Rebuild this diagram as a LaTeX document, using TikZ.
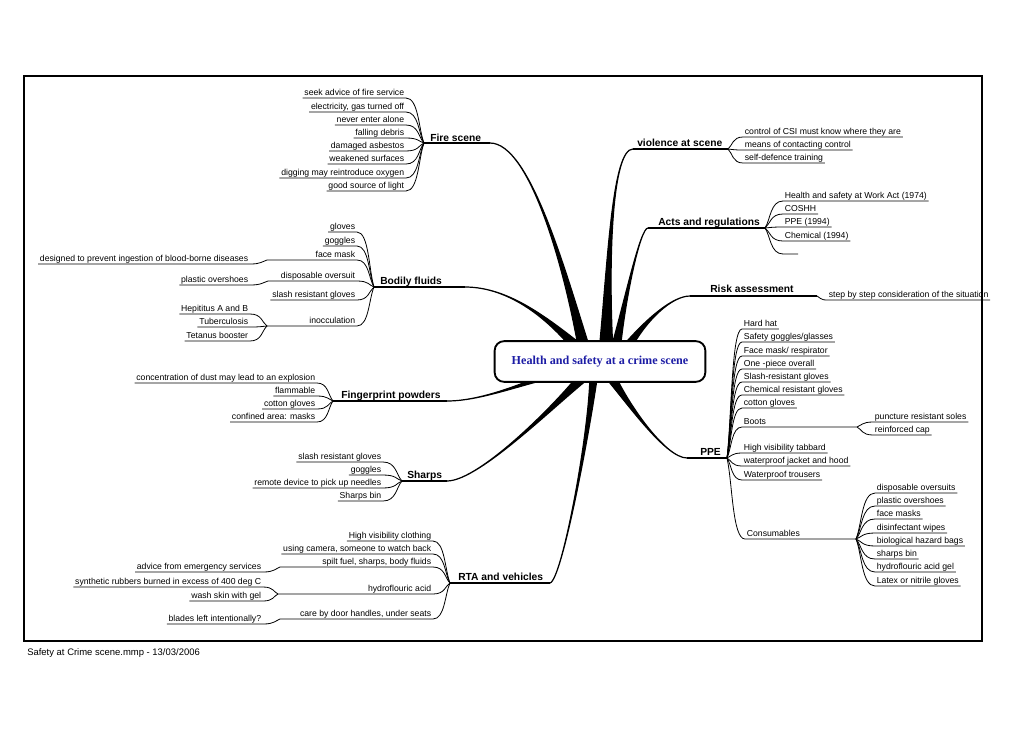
\documentclass[tikz,border=0pt]{standalone}
\usepackage{fontspec}
\setmainfont{Liberation Sans}
\newfontfamily\titlefont{Liberation Serif}
\usetikzlibrary{calc}
\definecolor{titleblue}{RGB}{28,28,165}
\newcommand{\branchcurve}[5]{\filldraw[line width=0.9pt] ($(#1)+(#5)$) .. controls (#2) and (#3) .. (#4) .. controls (#3) and (#2) .. ($(#1)-(#5)$) -- cycle;}

\begin{document}
\begin{tikzpicture}[x=0.75pt,y=-0.75pt,
  leaf/.style={font=\fontsize{6.5}{7}\selectfont,inner xsep=1.2pt,inner ysep=0pt,text height=4.8pt,text depth=1.7pt},
  lleaf/.style={leaf,anchor=south east},
  rleaf/.style={leaf,anchor=south west},
  topic/.style={font=\fontsize{7.7}{9}\selectfont\bfseries,anchor=base west,inner sep=0pt},
  uline/.style={line width=0.6pt},
  mainline/.style={line width=1.3pt},
  fanin/.style={to path={.. controls ($(\tikztostart)!0.7!(\tikztotarget |- \tikztostart)$) and ($(\tikztotarget)!0.3!(\tikztostart)$) .. (\tikztotarget)}},
  fanout/.style={to path={.. controls ($(\tikztostart)!0.3!(\tikztotarget)$) and ($(\tikztotarget)!0.7!(\tikztostart |- \tikztotarget)$) .. (\tikztotarget)}}]
\useasboundingbox (0,0) rectangle (1030,728);
\draw[line width=0.9pt] (24,76) rectangle (982,641);
\node[font=\fontsize{7.1}{8}\selectfont,anchor=base west,inner sep=0pt] (footer) at (27,655) {Safety at Crime scene.mmp - 13/03/2006};

\coordinate (fshub) at (424,143);   \coordinate (fsend) at (490,143);  \coordinate (fsbase) at (585,352);
\coordinate (vhub) at (728,149);    \coordinate (vend) at (633,149);   \coordinate (vbase) at (606,352);
\coordinate (ahub) at (765,228);    \coordinate (aend) at (648,228);   \coordinate (abase) at (615,352);
\coordinate (rhub) at (817,296);    \coordinate (rend) at (690,296);   \coordinate (rbase) at (624,352);
\coordinate (phub) at (727,458);    \coordinate (pend) at (687,458);   \coordinate (pbase) at (608,372);
\coordinate (bfhub) at (374,287);   \coordinate (bfend) at (465,287);  \coordinate (bfbase) at (582,352);
\coordinate (fphub) at (333,401);   \coordinate (fpend) at (447,401);  \coordinate (fpbase) at (560,372);
\coordinate (shhub) at (402,481);   \coordinate (shend) at (447,481);  \coordinate (shbase) at (588,372);
\coordinate (rtahub) at (450,583);  \coordinate (rtaend) at (550,583); \coordinate (rtabase) at (594,372);

\branchcurve{fsbase}{565,270}{530,143}{fsend}{6,0}
\branchcurve{vbase}{608,260}{612,149}{vend}{7,0}
\branchcurve{abase}{625,300}{640,228}{aend}{5,0}
\branchcurve{rbase}{645,320}{672,296}{rend}{3,4}
\branchcurve{bfbase}{550,320}{510,287}{bfend}{4,-4}
\branchcurve{fpbase}{520,385}{480,401}{fpend}{0,4}
\branchcurve{shbase}{560,400}{480,481}{shend}{4,4}
\branchcurve{rtabase}{590,430}{562,580}{rtaend}{4,0}
\branchcurve{pbase}{625,400}{665,458}{pend}{4,-4}

\node[draw,fill=white,rounded corners=7pt,line width=1.4pt,minimum width=158pt,minimum height=30.5pt,font=\titlefont\fontsize{9.1}{11}\selectfont\bfseries,text=titleblue] (centre) at (600,361.5) {Health and safety at a crime scene};

\draw[mainline] (fshub) -- (fsend);
\draw[mainline] (vend) -- (vhub);
\draw[mainline] (aend) -- (ahub);
\draw[mainline] (rend) -- (rhub);
\draw[mainline] (pend) -- (phub);
\draw[mainline] (bfhub) -- (bfend);
\draw[mainline] (fphub) -- (fpend);
\draw[mainline] (shhub) -- (shend);
\draw[mainline] (rtahub) -- (rtaend);

\node[topic] (fire) at (430,141) {Fire scene};
\node[topic] (violence) at (637,146) {violence at scene};
\node[topic] (acts) at (658,225) {Acts and regulations};
\node[topic] (risk) at (710,292) {Risk assessment};
\node[topic] (ppe) at (700,455) {PPE};
\node[topic] (bodily) at (380,284) {Bodily fluids};
\node[topic] (finger) at (341,398) {Fingerprint powders};
\node[topic] (sharps) at (407,478) {Sharps};
\node[topic] (rta) at (458,580) {RTA and vehicles};

\node[lleaf] (fs1) at (406,98) {seek advice of fire service};
\node[lleaf] (fs2) at (406,112) {electricity, gas turned off};
\node[lleaf] (fs3) at (406,125) {never enter alone};
\node[lleaf] (fs4) at (406,138) {falling debris};
\node[lleaf] (fs5) at (406,151) {damaged asbestos};
\node[lleaf] (fs6) at (406,164) {weakened surfaces};
\node[lleaf] (fs7) at (406,178) {digging may reintroduce oxygen};
\node[lleaf] (fs8) at (406,191) {good source of light};
\draw[uline] (fs1.south west) -- (fs1.south east) to[fanin] (fshub);
\draw[uline] (fs2.south west) -- (fs2.south east) to[fanin] (fshub);
\draw[uline] (fs3.south west) -- (fs3.south east) to[fanin] (fshub);
\draw[uline] (fs4.south west) -- (fs4.south east) to[fanin] (fshub);
\draw[uline] (fs5.south west) -- (fs5.south east) to[fanin] (fshub);
\draw[uline] (fs6.south west) -- (fs6.south east) to[fanin] (fshub);
\draw[uline] (fs7.south west) -- (fs7.south east) to[fanin] (fshub);
\draw[uline] (fs8.south west) -- (fs8.south east) to[fanin] (fshub);

\coordinate (bf3sub) at (267,260);
\coordinate (bf4sub) at (268,281);
\coordinate (bf6sub) at (267,326);
\node[lleaf] (bf1) at (357,232) {gloves};
\node[lleaf] (bf2) at (357,246) {goggles};
\node[lleaf] (bf3) at (357,260) {face mask};
\node[lleaf] (bf4) at (357,281) {disposable oversuit};
\node[lleaf] (bf5) at (357,300) {slash resistant gloves};
\node[lleaf] (bf6) at (357,326) {inocculation};
\node[lleaf] (bf3a) at (250,264) {designed to prevent ingestion of blood-borne diseases};
\node[lleaf] (bf4a) at (250,285) {plastic overshoes};
\node[lleaf] (bf6a) at (250,314) {Hepititus A and B};
\node[lleaf] (bf6b) at (250,327) {Tuberculosis};
\node[lleaf] (bf6c) at (250,341) {Tetanus booster};
\draw[uline] (bf1.south west) -- (bf1.south east) to[fanin] (bfhub);
\draw[uline] (bf2.south west) -- (bf2.south east) to[fanin] (bfhub);
\draw[uline] (bf3sub) -- (bf3.south east) to[fanin] (bfhub);
\draw[uline] (bf4sub) -- (bf4.south east) to[fanin] (bfhub);
\draw[uline] (bf5.south west) -- (bf5.south east) to[fanin] (bfhub);
\draw[uline] (bf6sub) -- (bf6.south east) to[fanin] (bfhub);
\draw[uline] (bf3a.south west) -- (bf3a.south east) to[fanin] (bf3sub);
\draw[uline] (bf4a.south west) -- (bf4a.south east) to[fanin] (bf4sub);
\draw[uline] (bf6a.south west) -- (bf6a.south east) to[fanin] (bf6sub);
\draw[uline] (bf6b.south west) -- (bf6b.south east) to[fanin] (bf6sub);
\draw[uline] (bf6c.south west) -- (bf6c.south east) to[fanin] (bf6sub);

\node[lleaf] (fp1) at (317,383) {concentration of dust may lead to an explosion};
\node[lleaf] (fp2) at (317,396) {flammable};
\node[lleaf] (fp3) at (317,409) {cotton gloves};
\node[lleaf] (fp4) at (317,422) {confined area: masks};
\draw[uline] (fp1.south west) -- (fp1.south east) to[fanin] (fphub);
\draw[uline] (fp2.south west) -- (fp2.south east) to[fanin] (fphub);
\draw[uline] (fp3.south west) -- (fp3.south east) to[fanin] (fphub);
\draw[uline] (fp4.south west) -- (fp4.south east) to[fanin] (fphub);

\node[lleaf] (sh1) at (383,462) {slash resistant gloves};
\node[lleaf] (sh2) at (383,475) {goggles};
\node[lleaf] (sh3) at (383,488) {remote device to pick up needles};
\node[lleaf] (sh4) at (383,501) {Sharps bin};
\draw[uline] (sh1.south west) -- (sh1.south east) to[fanin] (shhub);
\draw[uline] (sh2.south west) -- (sh2.south east) to[fanin] (shhub);
\draw[uline] (sh3.south west) -- (sh3.south east) to[fanin] (shhub);
\draw[uline] (sh4.south west) -- (sh4.south east) to[fanin] (shhub);

\coordinate (rta3sub) at (280,567);
\coordinate (rta4sub) at (278,594);
\coordinate (rta5sub) at (280,619);
\node[lleaf] (rta1) at (433,541) {High visibility clothing};
\node[lleaf] (rta2) at (433,554) {using camera, someone to watch back};
\node[lleaf] (rta3) at (433,567) {spilt fuel, sharps, body fluids};
\node[lleaf] (rta4) at (433,594) {hydroflouric acid};
\node[lleaf] (rta5) at (433,619) {care by door handles, under seats};
\node[lleaf] (rta3a) at (263,572) {advice from emergency services};
\node[lleaf] (rta4a) at (263,587) {synthetic rubbers burned in excess of 400 deg C};
\node[lleaf] (rta4b) at (263,601) {wash skin with gel};
\node[lleaf] (rta5a) at (263,624) {blades left intentionally?};
\draw[uline] (rta1.south west) -- (rta1.south east) to[fanin] (rtahub);
\draw[uline] (rta2.south west) -- (rta2.south east) to[fanin] (rtahub);
\draw[uline] (rta3sub) -- (rta3.south east) to[fanin] (rtahub);
\draw[uline] (rta4sub) -- (rta4.south east) to[fanin] (rtahub);
\draw[uline] (rta5sub) -- (rta5.south east) to[fanin] (rtahub);
\draw[uline] (rta3a.south west) -- (rta3a.south east) to[fanin] (rta3sub);
\draw[uline] (rta4a.south west) -- (rta4a.south east) to[fanin] (rta4sub);
\draw[uline] (rta4b.south west) -- (rta4b.south east) to[fanin] (rta4sub);
\draw[uline] (rta5a.south west) -- (rta5a.south east) to[fanin] (rta5sub);

\node[rleaf] (v1) at (743,137) {control of CSI must know where they are};
\node[rleaf] (v2) at (743,150) {means of contacting control};
\node[rleaf] (v3) at (743,163) {self-defence training};
\draw[uline] (vhub) to[fanout] (v1.south west) -- (v1.south east);
\draw[uline] (vhub) to[fanout] (v2.south west) -- (v2.south east);
\draw[uline] (vhub) to[fanout] (v3.south west) -- (v3.south east);

\node[rleaf] (a1) at (783,201) {Health and safety at Work Act (1974)};
\node[rleaf] (a2) at (783,214) {COSHH};
\node[rleaf] (a3) at (783,227) {PPE (1994)};
\node[rleaf] (a4) at (783,241) {Chemical (1994)};
\node[rleaf,minimum width=11pt] (a5) at (783,254) {};
\draw[uline] (ahub) to[fanout] (a1.south west) -- (a1.south east);
\draw[uline] (ahub) to[fanout] (a2.south west) -- (a2.south east);
\draw[uline] (ahub) to[fanout] (a3.south west) -- (a3.south east);
\draw[uline] (ahub) to[fanout] (a4.south west) -- (a4.south east);
\draw[uline] (ahub) to[fanout] (a5.south west) -- (a5.south east);

\node[rleaf] (r1) at (827,300) {step by step consideration of the situation};
\draw[uline] (rhub) to[fanout] (r1.south west) -- (r1.south east);

\coordinate (p8sub) at (857,427);
\coordinate (p12sub) at (856,539);
\node[rleaf] (p1) at (742,329) {Hard hat};
\node[rleaf] (p2) at (742,342) {Safety goggles/glasses};
\node[rleaf] (p3) at (742,356) {Face mask/ respirator};
\node[rleaf] (p4) at (742,369) {One -piece overall};
\node[rleaf] (p5) at (742,382) {Slash-resistant gloves};
\node[rleaf] (p6) at (742,395) {Chemical resistant gloves};
\node[rleaf] (p7) at (742,408) {cotton gloves};
\node[rleaf] (p8) at (742,427) {Boots};
\node[rleaf] (p9) at (742,453) {High visibility tabbard};
\node[rleaf] (p10) at (742,466) {waterproof jacket and hood};
\node[rleaf] (p11) at (742,480) {Waterproof trousers};
\node[rleaf] (p12) at (745,539) {Consumables};
\node[rleaf] (p8a) at (873,422) {puncture resistant soles};
\node[rleaf] (p8b) at (873,435) {reinforced cap};
\node[rleaf] (c1) at (875,493) {disposable oversuits};
\node[rleaf] (c2) at (875,506) {plastic overshoes};
\node[rleaf] (c3) at (875,519) {face masks};
\node[rleaf] (c4) at (875,533) {disinfectant wipes};
\node[rleaf] (c5) at (875,546) {biological hazard bags};
\node[rleaf] (c6) at (875,559) {sharps bin};
\node[rleaf] (c7) at (875,572) {hydroflouric acid gel};
\node[rleaf] (c8) at (875,586) {Latex or nitrile gloves};
\draw[uline] (phub) to[fanout] (p1.south west) -- (p1.south east);
\draw[uline] (phub) to[fanout] (p2.south west) -- (p2.south east);
\draw[uline] (phub) to[fanout] (p3.south west) -- (p3.south east);
\draw[uline] (phub) to[fanout] (p4.south west) -- (p4.south east);
\draw[uline] (phub) to[fanout] (p5.south west) -- (p5.south east);
\draw[uline] (phub) to[fanout] (p6.south west) -- (p6.south east);
\draw[uline] (phub) to[fanout] (p7.south west) -- (p7.south east);
\draw[uline] (phub) to[fanout] (p8.south west) -- (p8sub);
\draw[uline] (phub) to[fanout] (p9.south west) -- (p9.south east);
\draw[uline] (phub) to[fanout] (p10.south west) -- (p10.south east);
\draw[uline] (phub) to[fanout] (p11.south west) -- (p11.south east);
\draw[uline] (phub) to[fanout] (p12.south west) -- (p12sub);
\draw[uline] (p8sub) to[fanout] (p8a.south west) -- (p8a.south east);
\draw[uline] (p8sub) to[fanout] (p8b.south west) -- (p8b.south east);
\draw[uline] (p12sub) to[fanout] (c1.south west) -- (c1.south east);
\draw[uline] (p12sub) to[fanout] (c2.south west) -- (c2.south east);
\draw[uline] (p12sub) to[fanout] (c3.south west) -- (c3.south east);
\draw[uline] (p12sub) to[fanout] (c4.south west) -- (c4.south east);
\draw[uline] (p12sub) to[fanout] (c5.south west) -- (c5.south east);
\draw[uline] (p12sub) to[fanout] (c6.south west) -- (c6.south east);
\draw[uline] (p12sub) to[fanout] (c7.south west) -- (c7.south east);
\draw[uline] (p12sub) to[fanout] (c8.south west) -- (c8.south east);
\end{tikzpicture}
\end{document}
